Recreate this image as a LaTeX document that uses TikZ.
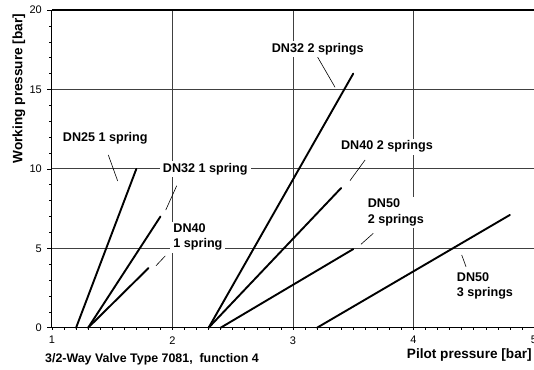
\documentclass[tikz,border=0pt]{standalone}
\usepackage{fontspec}
\setmainfont{Liberation Sans}

\begin{document}
\begin{tikzpicture}[x=120.5bp, y=15.88bp,
	curve/.style={line width=1.9bp, line cap=round},
	leader/.style={line width=0.6bp},
	gridline/.style={black!75, line width=0.85bp},
	lbl/.style={fill=white, inner xsep=3bp, inner ysep=2bp, anchor=west, align=left,
		font=\fontsize{12.6bp}{15.5bp}\selectfont\bfseries},
	ticklbl/.style={inner sep=0pt, font=\fontsize{11bp}{13bp}\selectfont},
	axtitle/.style={inner sep=0pt, font=\fontsize{13.6bp}{16bp}\selectfont\bfseries}]

	% Definition

	\def\Tmin{2.5bp}
	\def\Tmaj{4.5bp}

	\useasboundingbox (0.5685, -2.664) rectangle (5.0, 20.636);

	% Grid

	\foreach \x in {2, 3, 4}
		\draw [gridline] (\x, 0) -- (\x, 20);
	\foreach \y in {5, 10, 15}
		\draw [gridline] (1, \y) -- (5, \y);
	\draw [line width=1.2bp] (1, 20) -- (5, 20);

	% Axes

	\draw [line width=1bp] (1, 20) -- (1, 0) -- (5, 0);
	\foreach \y in {0, ..., 20}
		\draw [line width=0.6bp] (1, \y) -- ++(-\Tmin, 0);
	\foreach \y in {0, 5, ..., 20} {
		\draw [line width=0.6bp] (1, \y) -- ++(-\Tmaj, 0);
		\node [ticklbl, anchor=east] (ylbl\y) at ([xshift=-10bp] 1, \y) {\y};
	}
	\foreach \i in {0, ..., 40}
		\draw [line width=0.6bp] (1 + \i / 10, 0) -- ++(0, -\Tmin);
	\foreach \x in {1, ..., 5}
		\node [ticklbl, anchor=north] (xlbl\x) at ([yshift=-8.5bp] \x, 0) {\x};

	% Labels

	\node [lbl] (dn25a) at (1.064, 11.93) {DN25 1 spring};
	\node [lbl] (dn32a) at (1.894, 9.97) {DN32 1 spring};
	\node [lbl] (dn40a) at (1.981, 5.70) {DN40\\1 spring};
	\node [lbl] (dn32b) at (2.798, 17.53) {DN32 2 springs};
	\node [lbl] (dn40b) at (3.373, 11.40) {DN40 2 springs};
	\node [lbl] (dn50b) at (3.595, 7.27) {DN50\\2 springs};
	\node [lbl] (dn50c) at (4.334, 2.64) {DN50\\3 springs};

	% Curves

	\draw [curve] (1.2, 0) -- (1.7, 10);
	\draw [curve] (1.3, 0) -- (1.9, 7);
	\draw [curve] (1.3, 0) -- (1.8, 3.75);
	\draw [curve] (2.3, 0) -- (3.5, 16);
	\draw [curve] (2.3, 0) -- (3.4, 8.8);
	\draw [curve] (2.4, 0) -- (3.5, 4.95);
	\draw [curve] (3.2, 0) -- (4.8, 7.1);

	% Leaders

	\coordinate (l25a) at (1.467, 10.88);  \coordinate (c25a) at (1.545, 9.24);
	\coordinate (l32a) at (2.035, 8.94);   \coordinate (c32a) at (1.944, 7.41);
	\coordinate (l40a) at (1.940, 4.52);   \coordinate (c40a) at (1.863, 3.90);
	\coordinate (l32b) at (3.205, 17.03);  \coordinate (c32b) at (3.349, 15.14);
	\coordinate (l40b) at (3.598, 10.56);  \coordinate (c40b) at (3.473, 9.26);
	\coordinate (l50b) at (3.666, 5.94);   \coordinate (c50b) at (3.564, 5.25);
	\coordinate (l50c) at (4.400, 4.58);   \coordinate (c50c) at (4.436, 3.84);

	\draw [leader] (l25a) -- (c25a);
	\draw [leader] (l32a) -- (c32a);
	\draw [leader] (l40a) -- (c40a);
	\draw [leader] (l32b) -- (c32b);
	\draw [leader] (l40b) -- (c40b);
	\draw [leader] (l50b) -- (c50b);
	\draw [leader] (l50c) -- (c50c);

	% Titles

	\node [axtitle, anchor=west] (xtitle) at (3.944, -1.72) {Pilot pressure [bar]};
	\node [axtitle, rotate=90] (ytitle) at (0.726, 15.06) {Working pressure [bar]};
	\node [axtitle, anchor=west, font=\fontsize{12.4bp}{15bp}\selectfont\bfseries] (caption)
		at (0.942, -2.0) {3/2-Way Valve Type 7081,\ \ function 4};

\end{tikzpicture}
\end{document}
